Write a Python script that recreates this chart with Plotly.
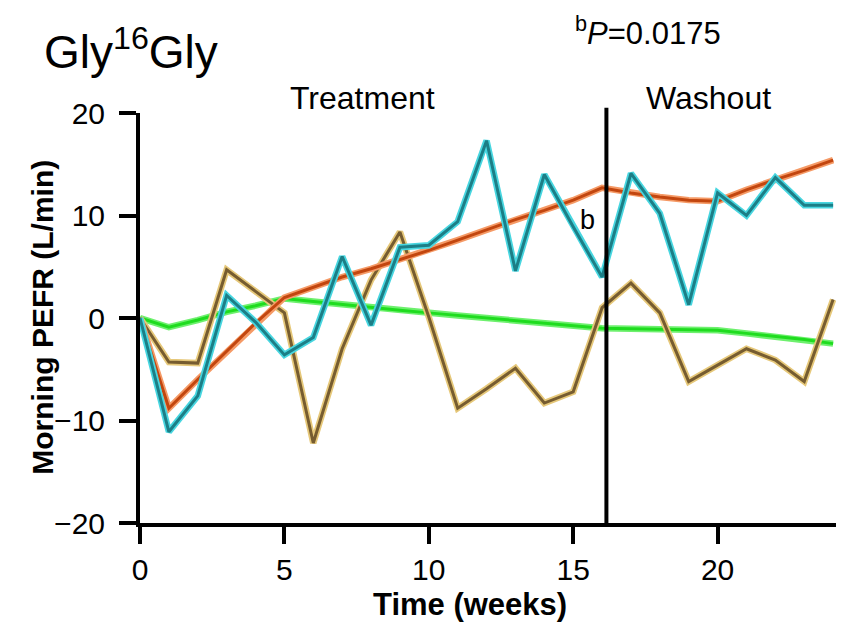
import plotly.graph_objects as go

weeks = list(range(0, 25))
teal = [0, -11.1, -7.6, 2.2, -0.4, -3.6, -1.9, 6.0, -0.7, 6.9, 7.1, 9.4, 17.3, 4.6, 14.0, 8.9, 4.0, 14.1, 10.2, 1.3, 12.2, 10.0, 13.7, 11.0, 11.0]
tan = [0, -4.3, -4.4, 4.7, 2.6, 0.5, -12.2, -3.0, 3.7, 8.4, 0.1, -8.8, -6.9, -4.9, -8.3, -7.2, 1.0, 3.4, 0.5, -6.2, -4.6, -3.0, -4.1, -6.2, 1.8]
orange = [0, -8.8, -6.0, -3.3, -0.5, 2.0, 3.0, 4.0, 4.8, 5.7, 6.6, 7.6, 8.6, 9.6, 10.5, 11.5, 12.7, 12.2, 11.8, 11.5, 11.4, 12.5, 13.5, 14.4, 15.4]
green = [0, -0.9, -0.2, 0.6, 1.2, 1.9, 1.6, 1.3, 1.0, 0.75, 0.5, 0.25, 0.0, -0.25, -0.5, -0.75, -1.0, -1.05, -1.1, -1.15, -1.2, -1.5, -1.8, -2.1, -2.5]

xticks = [0, 5, 10, 15, 20]
yticks = [-20, -10, 0, 10, 20]
washout_start = 16.15

series = [
    (green, "#6ef06e", "#1fdc1f"),
    (tan, "#e6c87a", "#765c30"),
    (orange, "#f59a66", "#c2460f"),
    (teal, "#48d6e0", "#1c7e86"),
]

fig = go.Figure()
for vals, glow, core in series:
    fig.add_trace(go.Scatter(x=weeks, y=vals, mode="lines",
                             line=dict(color=glow, width=6.5), hoverinfo="skip", showlegend=False))
    fig.add_trace(go.Scatter(x=weeks, y=vals, mode="lines",
                             line=dict(color=core, width=3), showlegend=False))

fig.add_shape(type="line", x0=washout_start, x1=washout_start, xref="x", yref="paper",
              y0=0, y1=1.013, line=dict(color="black", width=4))

font = "Liberation Sans, Arial, sans-serif"
axis_common = dict(ticks="outside", ticklen=17, tickwidth=4, tickcolor="black",
                   showline=True, linewidth=4, linecolor="black", showgrid=False, zeroline=False,
                   tickfont=dict(size=30))
fig.update_layout(
    width=838, height=616,
    margin=dict(l=132, r=10, t=105, b=101),
    paper_bgcolor="white", plot_bgcolor="white",
    font=dict(family=font, color="black"),
    xaxis=dict(range=[0, 24.1], tickvals=xticks, ticklabelstandoff=0, **axis_common),
    yaxis=dict(range=[-20, 20], tickvals=yticks, ticklabelstandoff=8, **axis_common),
    annotations=[
        dict(text="Gly<sup>16</sup>Gly", x=-0.141, y=1.157, xref="paper", yref="paper",
             xanchor="left", yanchor="middle", showarrow=False, font=dict(size=46)),
        dict(text="<sup>b</sup><i>P</i>=0.0175", x=0.622, y=1.2, xref="paper", yref="paper",
             xanchor="left", yanchor="middle", showarrow=False, font=dict(size=31)),
        dict(text="Treatment", x=0.319, y=1.037, xref="paper", yref="paper",
             xanchor="center", yanchor="middle", showarrow=False, font=dict(size=32)),
        dict(text="Washout", x=0.8175, y=1.037, xref="paper", yref="paper",
             xanchor="center", yanchor="middle", showarrow=False, font=dict(size=32)),
        dict(text="b", x=15.5, y=9.6, xref="x", yref="y",
             xanchor="center", yanchor="middle", showarrow=False, font=dict(size=27)),
        dict(text="<b>Morning PEFR (L/min)</b>", x=-0.14, y=0.502, xref="paper", yref="paper",
             xanchor="center", yanchor="middle", showarrow=False, textangle=-90, font=dict(size=30)),
        dict(text="<b>Time (weeks)</b>", x=0.474, y=-0.198, xref="paper", yref="paper",
             xanchor="center", yanchor="middle", showarrow=False, font=dict(size=31)),
    ],
)

fig.write_html("out.html")
